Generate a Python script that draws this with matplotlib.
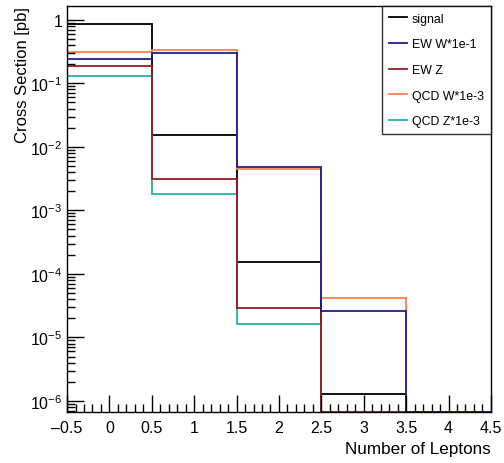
import numpy as np
import matplotlib
matplotlib.use("Agg")
from matplotlib import pyplot as plt
from matplotlib.ticker import FixedLocator, MultipleLocator, FuncFormatter
from matplotlib.lines import Line2D

# bin edges: number of leptons 0..4
edges = [-0.5, 0.5, 1.5, 2.5, 3.5, 4.5]

labels = ["signal", "EW W*1e-1", "EW Z", "QCD W*1e-3", "QCD Z*1e-3"]
colors = ["#000000", "#1c1c96", "#981c1c", "#ff7d50", "#22b2ad"]

signal = [0.87, 0.0155, 1.55e-4, 1.3e-6, 0.0]
ew_w = [0.24, 0.295, 0.0049, 2.65e-5, 0.0]
ew_z = [0.19, 0.0031, 2.85e-5, 0.0, 0.0]
qcd_w = [0.31, 0.33, 0.0045, 4.1e-5, 0.0]
qcd_z = [0.13, 0.0018, 1.6e-5, 0.0, 0.0]

series = [signal, ew_w, ew_z, qcd_w, qcd_z]
draw_order = [0, 4, 3, 2, 1]

ymin, ymax = 6.7e-7, 1.65

plt.rcParams["font.family"] = ["Liberation Sans", "DejaVu Sans"]
plt.rcParams["mathtext.fontset"] = "custom"
plt.rcParams["mathtext.rm"] = "Liberation Sans"
plt.rcParams["mathtext.it"] = "Liberation Sans"

fig = plt.figure(figsize=(5.04, 4.64), dpi=100)
ax = fig.add_axes([0.133, 0.110, 0.841, 0.875])

# draw histograms, empty bins sit on the bottom of the frame
for i in draw_order:
    v = np.array(series[i], dtype=float)
    v = np.where(v > 0, v, ymin)
    ax.stairs(v, edges, color=colors[i], lw=1.3, baseline=None)

ax.set_yscale("log")
ax.set_xlim(-0.5, 4.5)
ax.set_ylim(ymin, ymax)

def ylab(y, pos):
    e = int(round(np.log10(y)))
    if e == 0:
        return "1"
    return r"$10^{%d}$" % e

ax.yaxis.set_major_locator(FixedLocator([10.0 ** k for k in range(-6, 1)]))
ax.yaxis.set_major_formatter(FuncFormatter(ylab))
minors = [m * 10.0 ** k for k in range(-7, 1) for m in range(2, 10)]
ax.yaxis.set_minor_locator(FixedLocator(minors))
ax.yaxis.set_minor_formatter(FuncFormatter(lambda y, p: ""))

ax.xaxis.set_major_locator(MultipleLocator(0.5))
ax.xaxis.set_minor_locator(MultipleLocator(0.1))
ax.xaxis.set_major_formatter(FuncFormatter(lambda x, p: ("%g" % x).replace("-", "\u2013")))

ax.tick_params(which="both", direction="in", top=False, right=False, labelsize=11.5)
ax.tick_params(which="major", length=12, width=1)
ax.tick_params(which="minor", length=6, width=1)
ax.tick_params(axis="x", pad=6)

for s in ax.spines.values():
    s.set_linewidth(1)

ax.set_ylabel("Cross Section [pb]", fontsize=12, loc="top", labelpad=0)
ax.set_xlabel("Number of Leptons", fontsize=12.3, loc="right")

handles = [Line2D([0], [0], color=c, lw=1.3) for c in colors]
leg = ax.legend(handles, labels, loc="upper right", bbox_to_anchor=(1.0, 1.0),
                borderaxespad=0, fontsize=8.9, frameon=True, fancybox=False,
                handlelength=1.5, handletextpad=0.4, labelspacing=1.1,
                borderpad=0.55)
leg.get_frame().set_edgecolor("black")
leg.get_frame().set_linewidth(1)

fig.savefig("out.png", dpi=100)
